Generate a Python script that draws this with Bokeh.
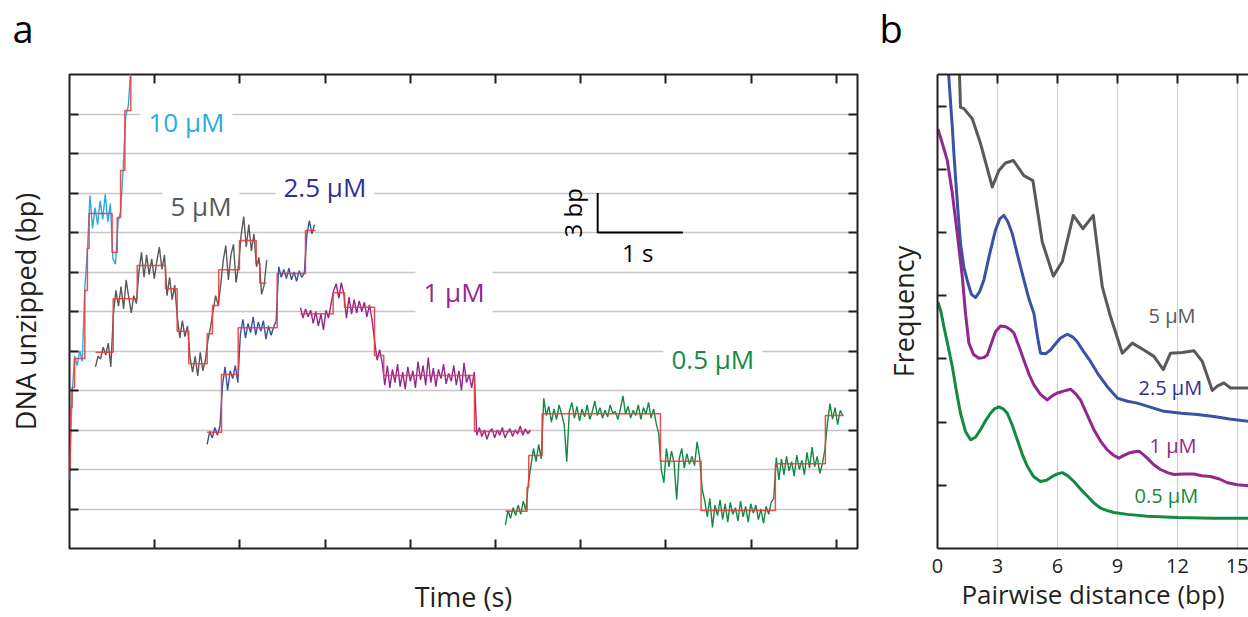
import numpy as np
from bokeh.plotting import figure
from bokeh.layouts import row, column
from bokeh.models import Label, LinearAxis, FixedTicker
from bokeh.core.properties import value
from bokeh.embed import file_html
from bokeh.resources import INLINE

FONT = "Open Sans"
INK = "#231F20"

# ---------------- panel a : unzipping traces ----------------
time_range = (0, 9.25)          # s
bp_range = (0, 36)              # bp
time_ticks = [1, 2, 3, 4, 5, 6, 7, 8, 9]
bp_ticks = [3, 6, 9, 12, 15, 18, 21, 24, 27, 30, 33]
trace_dt = 0.03                 # s between plotted samples

concentrations = ["10 µM", "5 µM", "2.5 µM", "1 µM", "0.5 µM"]
panel_letters = ["a", "b"]

# 10 uM (cyan)
cyan_t0 = 0.0
cyan_bp = [5.2, 11.6, 14.6, 13.9, 15.0, 14.2, 19.8, 22.6, 26.8, 24.3, 25.9, 24.6, 26.4,
           25.0, 26.9, 24.8, 26.2, 22.0, 21.6, 24.8, 25.6, 28.9, 32.8, 33.6, 36.5, 38.5]
cyan_step_t = [0.0, 0.01, 0.03, 0.06, 0.18, 0.21, 0.23, 0.50, 0.56, 0.60, 0.65, 0.72, 0.76]
cyan_step_bp = [5.77, 10.71, 12.23, 14.43, 19.59, 22.78, 25.44, 22.48, 25.14, 28.71, 33.27, 38.6]

# 5 uM (grey)
gray_t0 = 0.305
gray_bp = [13.8, 14.6, 14.4, 15.3, 14.7, 15.6, 13.8,
           17.8, 19.6, 18.4, 19.9, 18.2, 20.4, 19.1, 17.9, 19.2, 18.6,
           21.0, 22.5, 20.6, 22.3, 20.8, 22.0, 20.5, 21.8, 22.9, 21.2, 22.3,
           19.2, 20.6, 18.9, 20.0, 17.6,
           16.0, 17.3, 16.1, 16.9,
           14.5, 13.4, 14.6, 13.1, 14.9, 13.5, 14.3,
           15.8, 16.8,
           18.0, 19.2, 18.5,
           20.0, 21.9, 23.0, 20.4, 22.3, 23.1, 20.2, 21.5,
           23.8, 25.2, 22.9, 24.6, 22.6, 23.9,
           21.4, 22.1,
           19.3, 20.0, 21.9]
gray_step_t = [0.305, 0.513, 0.795, 1.127, 1.264, 1.400, 1.616, 1.678, 1.752, 1.995, 2.191, 2.234, 2.31]
gray_step_bp = [14.91, 18.96, 21.49, 19.72, 16.50, 14.03, 16.31, 18.46, 21.17, 23.39, 21.67, 20.15]

# 2.5 uM (blue)
blue_t0 = 1.616
blue_bp = [7.9, 8.9, 8.4, 9.2, 8.6, 9.3,
           12.4, 13.8, 12.0, 13.5, 12.9, 13.9, 12.6,
           16.3, 17.4, 16.0, 17.1, 16.4, 17.6, 16.2, 17.2, 16.5, 17.3, 15.9, 16.9, 16.2, 16.8, 17.3,
           21.4, 20.6, 21.2, 20.5, 21.3, 20.4, 21.0, 20.3, 21.1, 20.6, 20.9,
           23.8, 24.9, 23.9, 24.6]
blue_step_t = [1.616, 1.784, 1.980, 2.438, 2.770, 2.887]
blue_step_bp = [8.83, 13.22, 16.76, 20.89, 24.15]

# 1 uM (purple)
purple_t0 = 2.711
purple_bp = [18.3, 17.5, 18.2, 17.6, 18.1, 17.1, 18.0, 16.9, 17.8, 16.6, 18.1, 17.5, 18.6,
             19.6, 20.1, 19.0, 20.2, 19.3,
             17.5, 19.1, 17.8, 18.9, 17.9, 18.8, 18.0, 18.7, 17.6, 18.5, 17.4,
             15.8, 14.3, 15.1, 14.1,
             12.4, 13.9, 12.2, 13.6, 12.6, 14.0, 12.3, 13.4, 12.1, 13.8, 12.7, 13.5, 12.2, 14.2,
             12.8, 13.9, 12.4, 14.5, 12.6, 13.7, 12.3, 13.6, 12.9, 14.0, 12.5, 13.3, 12.7, 13.9,
             12.4, 13.5, 12.0, 14.1, 12.6, 13.2, 12.2, 13.4,
             8.6, 9.2, 8.5, 9.0, 8.3, 8.9, 9.1, 8.4, 9.0, 8.6, 9.2, 8.4, 8.8, 9.1, 8.5, 9.0,
             8.7, 9.3, 8.6, 9.1, 8.7, 9.0]
purple_step_t = [2.711, 3.095, 3.228, 3.580, 3.689, 4.754, 5.411]
purple_step_bp = [17.83, 19.42, 18.33, 14.66, 13.14, 8.89]

# 0.5 uM (green)
green_t0 = 5.117
green_bp = [1.8, 2.9, 2.3, 3.1, 2.5, 3.3, 2.6, 3.6, 2.9,
            5.0,
            6.3, 7.6, 6.6, 7.9, 6.8,
            11.4, 10.1, 10.8, 9.6, 10.6, 9.8, 10.9, 10.2, 9.4, 6.6, 10.4, 11.1, 9.9, 10.8, 9.7,
            10.6, 10.0, 10.9, 9.8, 10.4, 11.2, 10.1, 10.7, 9.9, 10.5, 10.0, 10.9, 10.3, 10.4,
            9.8, 10.6, 11.6, 10.2, 10.8, 9.9, 10.5, 10.1, 10.9, 9.8, 10.7, 10.2, 11.1, 9.9,
            10.6, 9.5, 8.7,
            6.0, 5.0, 7.6, 6.2, 7.4, 6.5, 3.7, 6.8, 7.6, 6.1, 7.2, 6.4, 7.0, 6.3, 8.1, 6.9,
            4.5, 3.6, 2.4, 3.8, 1.6, 3.3, 2.5, 3.7, 2.2, 3.4, 2.0, 3.5, 2.6, 3.1, 2.1, 3.6,
            2.4, 3.2, 2.0, 3.4, 2.7, 3.3, 2.2, 3.0, 1.9, 3.2, 2.6, 3.5, 3.8,
            6.9, 5.2, 6.8, 5.6, 7.0, 5.9, 6.6, 5.5, 7.1, 6.0, 6.7, 5.6, 7.3, 6.1, 7.7, 6.2,
            7.0, 5.7, 6.4, 7.5,
            9.5, 11.0, 9.8, 10.7, 9.4, 10.5, 10.1]
green_step_t = [5.117, 5.372, 5.391, 5.548, 6.937, 7.414, 8.286, 8.873, 9.088]
green_step_bp = [2.83, 4.66, 7.06, 10.23, 6.63, 2.89, 6.43, 10.10]

# label anchors (time s, bp) and scale bar
label_a_t = [0.833, 1.091, 2.418, 4.061, 6.972]
label_a_bp = [32.43, 26.05, 27.42, 19.5, 14.4]
scale_t0, scale_bp0, scale_dt, scale_dbp = 6.2, 24.0, 1.0, 3.0

# ---------------- panel b : pairwise distance distributions ----------------
dist_range = (0, 15.55)
freq_range = (0, 7.5)
dist_ticks = [0, 3, 6, 9, 12, 15]
freq_ticks = [1, 2, 3, 4, 5, 6, 7]

pd_gray_x = [1.05, 1.15, 1.32, 1.74, 2.15, 2.74, 3.07, 3.40, 3.79, 4.32, 4.77, 5.24, 5.79, 6.24,
             6.79, 7.27, 7.79, 8.24, 8.65, 9.24, 9.74, 10.32, 10.82, 11.29, 11.65, 12.24, 12.82,
             13.24, 13.74, 13.99, 14.32, 14.65, 15.6]
pd_gray_y = [8.0, 6.98, 6.96, 6.80, 6.41, 5.72, 5.98, 6.10, 6.14, 5.90, 5.82, 4.85, 4.31, 4.54,
             5.27, 5.06, 5.27, 4.14, 3.67, 3.09, 3.25, 3.14, 3.04, 2.83, 3.09, 3.10, 3.13,
             2.96, 2.50, 2.57, 2.62, 2.54, 2.54]
pd_blue_x = [0.45, 0.6, 0.74, 0.82, 0.90, 1.02, 1.15, 1.32, 1.52, 1.70, 1.90, 2.10, 2.32, 2.60,
             2.90, 3.12, 3.32, 3.52, 3.74, 4.02, 4.32, 4.57, 4.82, 5.00, 5.15, 5.40, 5.65, 5.90,
             6.15, 6.49, 6.75, 6.99, 7.30, 7.65, 8.05, 8.49, 8.99, 9.5, 9.99, 10.6, 11.32, 12.2,
             12.99, 13.82, 14.6, 15.6]
pd_blue_y = [8.0, 7.3, 6.67, 6.25, 5.88, 5.35, 4.83, 4.45, 4.20, 4.02, 3.97, 4.06, 4.25, 4.65,
             5.04, 5.22, 5.27, 5.17, 4.98, 4.62, 4.25, 3.95, 3.72, 3.35, 3.09, 3.08, 3.14, 3.24,
             3.33, 3.39, 3.35, 3.27, 3.12, 2.96, 2.75, 2.56, 2.38, 2.33, 2.30, 2.24, 2.17, 2.14,
             2.12, 2.09, 2.05, 2.01]
pd_purple_x = [0.02, 0.25, 0.49, 0.74, 0.99, 1.24, 1.40, 1.57, 1.80, 2.07, 2.30, 2.49, 2.70, 2.90,
               3.15, 3.40, 3.62, 3.82, 4.07, 4.32, 4.57, 4.82, 5.15, 5.49, 5.75, 5.99, 6.30, 6.65,
               6.90, 7.15, 7.48, 7.82, 8.15, 8.49, 8.78, 9.07, 9.30, 9.57, 9.85, 10.07, 10.28,
               10.49, 10.80, 11.15, 11.5, 11.82, 12.3, 12.82, 13.2, 13.65, 14.1, 14.49, 15.0, 15.6]
pd_purple_y = [6.64, 6.40, 6.14, 5.62, 4.98, 4.30, 3.72, 3.25, 3.07, 3.01, 3.02, 3.06, 3.25, 3.43,
               3.52, 3.51, 3.47, 3.41, 3.20, 2.98, 2.76, 2.59, 2.44, 2.35, 2.42, 2.46, 2.49, 2.52,
               2.45, 2.35, 2.12, 1.88, 1.70, 1.56, 1.48, 1.43, 1.47, 1.51, 1.53, 1.54, 1.49,
               1.43, 1.33, 1.25, 1.20, 1.17, 1.18, 1.18, 1.15, 1.14, 1.10, 1.04, 1.01, 0.99]
pd_green_x = [0.02, 0.17, 0.32, 0.53, 0.74, 0.95, 1.15, 1.40, 1.65, 1.90, 2.15, 2.40, 2.65, 2.85,
              3.07, 3.28, 3.49, 3.74, 3.99, 4.24, 4.49, 4.80, 5.15, 5.45, 5.74, 6.00, 6.24, 6.52,
              6.82, 7.15, 7.49, 7.82, 8.15, 8.49, 8.82, 9.5, 10.49, 12.0, 13.82, 15.6]
pd_green_y = [3.90, 3.75, 3.51, 3.20, 2.88, 2.48, 2.14, 1.85, 1.72, 1.76, 1.88, 2.02, 2.14, 2.21,
              2.24, 2.21, 2.14, 1.95, 1.72, 1.49, 1.30, 1.14, 1.06, 1.08, 1.14, 1.18, 1.20, 1.15,
              1.06, 0.94, 0.83, 0.72, 0.64, 0.60, 0.57, 0.54, 0.51, 0.49, 0.48, 0.48]

label_b_x = [10.55, 10.05, 10.6, 9.85]
label_b_y = [3.68, 2.54, 1.63, 0.84]

# colours
c_cyan, c_gray, c_blue, c_purple, c_green = "#29ABE2", "#58595B", "#3953A4", "#92278F", "#128A43"
c_navy = "#2E3192"
c_fit = "#EE3B3B"

STRIP_H = 72           # header strip holding the panel letters
PANEL_H = 617 - STRIP_H


def style_axis(ax, tick_len=9, labels=False):
    ax.major_tick_in = tick_len
    ax.major_tick_out = 0
    ax.major_tick_line_width = 2
    ax.major_tick_line_color = INK
    ax.minor_tick_line_color = None
    ax.axis_label_text_font = FONT
    ax.axis_label_text_font_style = "normal"
    ax.axis_label_text_color = INK
    ax.axis_label_text_font_size = "27px"
    ax.major_label_text_font = FONT
    ax.major_label_text_color = INK
    if not labels:
        ax.major_label_text_color = None
        ax.major_label_text_font_size = "1px"
        ax.major_label_standoff = 0


def add_label(p, x, y, text, color, size, bg=False, align="left", angle=0.0):
    lab = Label(x=x, y=y, text=text, text_color=color, text_font=FONT, text_font_size=size,
                text_baseline="middle", text_align=align, angle=angle)
    if bg:
        lab.background_fill_color = "white"
        lab.padding = 8
    p.add_layout(lab)


# ---------- header strip with panel letters (pixel space, y downward) ----------
strip = figure(width=1248, height=STRIP_H, x_range=(0, 1248), y_range=(STRIP_H, 0),
               title=None, output_backend="svg", toolbar_location=None,
               x_axis_type=None, y_axis_type=None,
               min_border_left=0, min_border_right=0, min_border_top=0, min_border_bottom=0)
strip.outline_line_color = None
strip.grid.visible = False
strip.text(x=[12, 879], y=[27, 27], text=panel_letters, text_font=value(FONT),
           text_font_size="38px", text_color="black", text_baseline="alphabetic")

# ---------- figure a ----------
pa = figure(width=878, height=PANEL_H, x_range=time_range, y_range=bp_range,
            output_backend="svg", toolbar_location=None,
            min_border_left=69, min_border_right=21, min_border_top=2, min_border_bottom=69)
pa.outline_line_color = INK
pa.outline_line_width = 2
pa.xgrid.visible = False
pa.ygrid.ticker = FixedTicker(ticks=bp_ticks)
pa.ygrid.grid_line_color = "#C6C6C6"
pa.ygrid.grid_line_width = 1.5

xa = pa.xaxis[0]
xa.ticker = FixedTicker(ticks=time_ticks)
style_axis(xa)
xa.axis_line_color = None
xa.axis_label = "Time (s)"
xa.axis_label_standoff = 29

ya = pa.yaxis[0]
ya.ticker = FixedTicker(ticks=bp_ticks)
style_axis(ya)
ya.axis_line_color = None
ya.axis_label = "DNA unzipped (bp)"
ya.axis_label_standoff = 26

top_a = LinearAxis(ticker=FixedTicker(ticks=time_ticks), axis_line_color=None)
style_axis(top_a)
pa.add_layout(top_a, "above")
right_a = LinearAxis(ticker=FixedTicker(ticks=bp_ticks), axis_line_color=None)
style_axis(right_a)
pa.add_layout(right_a, "right")

traces = [(cyan_t0, cyan_bp, cyan_step_t, cyan_step_bp, c_cyan),
          (gray_t0, gray_bp, gray_step_t, gray_step_bp, c_gray),
          (blue_t0, blue_bp, blue_step_t, blue_step_bp, c_blue),
          (purple_t0, purple_bp, purple_step_t, purple_step_bp, c_purple),
          (green_t0, green_bp, green_step_t, green_step_bp, c_green)]
for t0, vals, st, sb, col in traces:
    t = t0 + trace_dt * np.arange(len(vals))
    pa.line(t, vals, line_color=col, line_width=1.4)
for t0, vals, st, sb, col in traces:
    pa.step(st, list(sb) + [sb[-1]], mode="after", line_color=c_fit, line_width=1.5, line_alpha=0.9)

# scale bar
pa.line([scale_t0, scale_t0, scale_t0 + scale_dt], [scale_bp0 + scale_dbp, scale_bp0, scale_bp0],
        line_color="black", line_width=2)
add_label(pa, scale_t0 - 0.30, scale_bp0 + scale_dbp / 2, "3 bp", "black", "24px",
          align="center", angle=np.pi / 2)
add_label(pa, scale_t0 + scale_dt / 2 - 0.03, scale_bp0 - 1.55, "1 s", "black", "24px", align="center")

label_a_colors = [c_cyan, c_gray, c_navy, c_purple, c_green]
for x, y, txt, col in zip(label_a_t, label_a_bp, concentrations, label_a_colors):
    add_label(pa, x, y, txt, col, "26px", bg=True)

# ---------- figure b ----------
pb = figure(width=370, height=PANEL_H, x_range=dist_range, y_range=freq_range,
            output_backend="svg", toolbar_location=None,
            min_border_left=59, min_border_right=0, min_border_top=2, min_border_bottom=69)
pb.outline_line_color = None
pb.ygrid.visible = False
pb.xgrid.ticker = FixedTicker(ticks=dist_ticks[1:])
pb.xgrid.grid_line_color = "#D2D2D2"
pb.xgrid.grid_line_width = 1.2

xb = pb.xaxis[0]
xb.ticker = FixedTicker(ticks=dist_ticks)
style_axis(xb, tick_len=0, labels=True)
xb.axis_line_color = INK
xb.axis_line_width = 2
xb.major_label_text_font_size = "20px"
xb.major_label_standoff = 10
xb.axis_label = "Pairwise distance (bp)"
xb.axis_label_text_font_size = "26px"
xb.axis_label_standoff = 0

yb = pb.yaxis[0]
yb.ticker = FixedTicker(ticks=freq_ticks)
style_axis(yb)
yb.axis_line_color = INK
yb.axis_line_width = 2
yb.axis_label = "Frequency"
yb.axis_label_standoff = 16

top_b = LinearAxis(ticker=FixedTicker(ticks=dist_ticks[1:]), axis_line_color=INK, axis_line_width=2)
style_axis(top_b)
pb.add_layout(top_b, "above")

for xs, ys, col in [(pd_gray_x, pd_gray_y, c_gray), (pd_blue_x, pd_blue_y, c_blue),
                    (pd_purple_x, pd_purple_y, c_purple), (pd_green_x, pd_green_y, c_green)]:
    pb.line(xs, ys, line_color=col, line_width=3, line_join="round")

label_b_colors = [c_gray, c_navy, c_purple, c_green]
for x, y, txt, col in zip(label_b_x, label_b_y, concentrations[1:], label_b_colors):
    add_label(pb, x, y, txt, col, "20px")

layout = column(strip, row(pa, pb))
open("out.html", "w").write(file_html(layout, INLINE))
